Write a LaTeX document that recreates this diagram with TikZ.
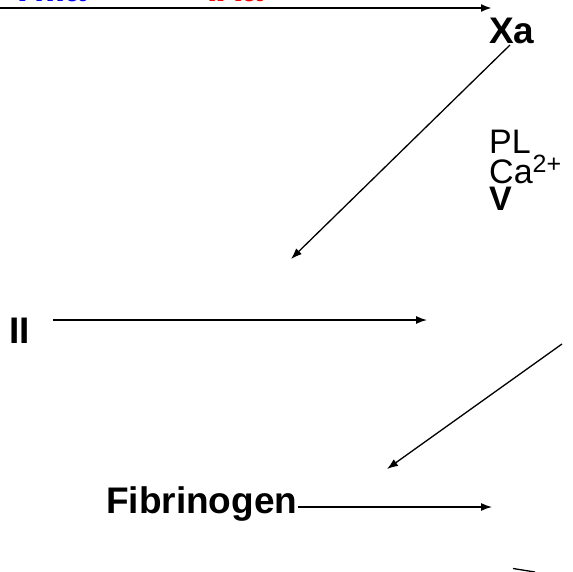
\documentclass[tikz,border=0pt]{standalone}
\usepackage{fontspec}
\setmainfont{Liberation Sans}
\usetikzlibrary{arrows.meta}

\tikzset{
  factor/.style={font=\fontsize{37}{37}\selectfont\bfseries, inner sep=0pt, anchor=base west},
  cofactor/.style={font=\fontsize{34}{26.5}\selectfont, inner sep=0pt, align=left, anchor=base west},
  conv/.style={line width=1.3pt, -{Latex[length=11pt,width=8pt]}},
}

\begin{document}
\begin{tikzpicture}[x=1pt,y=-1pt]
    \useasboundingbox (0,0) rectangle (573,571);
    \clip (0,0) rectangle (573,571);

    % Enzymes over the first step (cut off by the top edge)
    \node[factor, blue] (viiia) at (10,1.8) {VIIIa};
    \node[factor, red] (ixa) at (207,1.8) {IXa};

    % Factors
    \node[factor] (xa) at (489,43) {Xa};
    \node[factor] (ii) at (9,343) {II};
    \node[factor] (fbg) at (106,513) {Fibrinogen};

    % Cofactors (base = last line)
    \node[cofactor] (cof) at (489,210)
        {PL\\Ca\raisebox{0.33em}{\fontsize{25}{25}\selectfont 2+}\\\textbf{V}};

    % Free ends
    \coordinate (x-in) at (0,8);
    \coordinate (x-out) at (492,8);
    \coordinate (xa-out) at (510,45);
    \coordinate (ii-in) at (291,259);
    \coordinate (ii-start) at (53,320);
    \coordinate (iia) at (427,320);
    \coordinate (iia-out) at (562,344);
    \coordinate (fbg-in) at (387,469);
    \coordinate (fbn) at (492,507);
    \coordinate (fbn-out) at (513,568.5);
    \coordinate (fbn-down) at (535,572);

    % Steps
    \draw[conv, line width=2pt] (x-in) -- (x-out);
    \draw[conv] (xa-out) -- (ii-in);
    \draw[conv] (ii-start) -- (iia);
    \draw[conv] (iia-out) -- (fbg-in);
    \draw[conv] ([yshift=6pt]fbg.base east) -- (fbn);
    \draw[line width=1.3pt] (fbn-out) -- (fbn-down);
\end{tikzpicture}
\end{document}
